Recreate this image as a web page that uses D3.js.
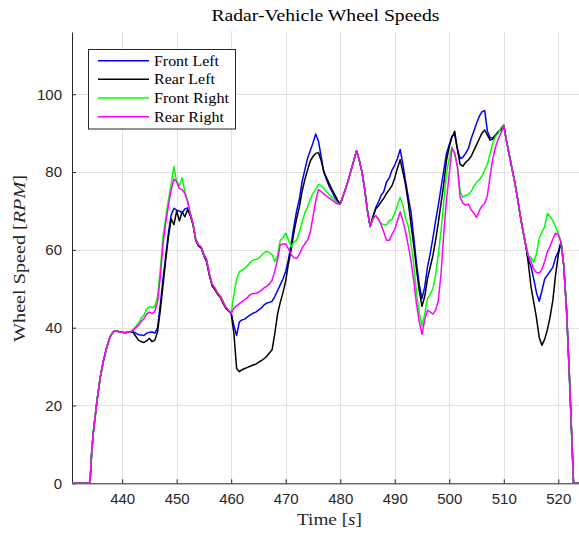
<!DOCTYPE html>
<html>
<head>
<meta charset="utf-8">
<script src="https://cdn.jsdelivr.net/npm/d3@7"></script>
<style>
  body { margin: 0; background: #ffffff; }
  svg { display: block; }
</style>
</head>
<body>
<svg id="chart" width="579" height="535"></svg>
<script>
// Sample times [s]
const time = [
  430.8, 434.1, 434.4, 434.7, 435.4, 436.0, 436.6, 437.2, 437.8, 438.4, 439.0, 439.5, 440.0, 440.5, 441.0, 441.5,
  442.0, 442.5, 443.0, 443.5, 444.0, 444.5, 445.0, 445.5, 446.0, 446.5,
  447.0, 447.5, 448.0, 448.5, 449.0, 449.5, 450.0, 450.5, 451.0, 451.5,
  452.0, 452.5, 453.0, 453.5, 454.0, 454.5, 455.0, 455.5, 456.0, 456.5,
  457.0, 457.5, 458.0, 458.5, 459.0, 459.5, 460.0, 460.5, 461.0, 461.5,
  462.0, 462.5, 463.0, 463.5, 464.0, 464.5, 465.0, 465.5, 466.0, 466.5,
  467.0, 467.5, 468.0, 468.5, 469.0, 469.5, 470.0, 470.5, 471.0, 471.5,
  472.0, 472.5, 473.0, 473.5, 474.0, 474.5, 475.0, 475.5, 476.0, 476.5,
  477.0, 477.5, 478.0, 478.5, 479.0, 479.5, 480.0, 480.5, 481.0, 481.5,
  482.0, 482.5, 483.0, 483.5, 484.0, 484.5, 485.0, 485.5, 486.0, 486.5,
  487.0, 487.5, 488.0, 488.5, 489.0, 489.5, 490.0, 490.5, 491.0, 491.5,
  492.0, 492.5, 493.0, 493.5, 494.0, 494.5, 495.0, 495.5, 496.0, 496.5,
  497.0, 497.5, 498.0, 498.5, 499.0, 499.5, 500.0, 500.5, 501.0, 501.5,
  502.0, 502.5, 503.0, 503.5, 504.0, 504.5, 505.0, 505.5, 506.0, 506.5,
  507.0, 507.5, 508.0, 508.5, 509.0, 509.5, 510.0, 510.5, 511.0, 511.5,
  512.0, 512.5, 513.0, 513.5, 514.0, 514.5, 515.0, 515.5, 516.0, 516.5,
  517.0, 517.5, 518.0, 518.5, 519.0, 519.5, 520.0, 520.5, 521.0, 521.5,
  522.0, 522.5, 522.8, 523.8
];

// Wheel speeds [RPM]
const frontLeft = [
  0, 0, 7.7, 12.9, 21.4, 27.4, 31.7, 35.1, 37.7, 39.0, 39.2, 38.9, 38.8, 38.7, 38.8, 38.9,
  39.0, 38.6, 38.2, 38.1, 38.0, 38.6, 38.8, 38.9, 38.6, 40.0,
  46.0, 52.5, 58.5, 64.5, 69.0, 70.7, 70.2, 70.0, 69.5, 70.5,
  70.8, 69.0, 66.5, 62.5, 61.0, 60.5, 58.5, 57.0, 53.5, 50.8,
  50.0, 48.8, 48.0, 46.5, 45.2, 44.5, 43.8, 40.5, 38.0, 41.5,
  42.0, 42.2, 42.8, 43.3, 43.7, 44.0, 44.5, 45.0, 45.8, 46.3,
  46.5, 46.8, 48.0, 49.5, 51.0, 52.5, 54.5, 57.5, 61.5, 66.0,
  70.0, 73.0, 77.5, 80.5, 83.5, 85.5, 87.5, 89.8, 88.0, 84.0,
  80.0, 78.0, 76.2, 75.0, 73.5, 72.5, 71.8, 73.7, 75.8, 78.0,
  80.5, 83.0, 85.5, 83.0, 80.0, 75.5, 70.0, 66.0, 68.5, 70.8,
  72.3, 74.0, 75.0, 77.5, 78.5, 80.5, 81.8, 83.5, 85.8, 82.0,
  77.5, 73.5, 69.5, 63.0, 56.5, 51.0, 47.5, 50.5, 55.5, 59.0,
  63.0, 67.5, 71.5, 76.0, 80.5, 84.8, 87.0, 89.3, 89.5, 86.0,
  83.5, 83.8, 84.8, 86.0, 88.5, 90.5, 92.5, 94.3, 95.5, 95.8,
  90.5, 88.8, 88.8, 89.5, 90.4, 91.0, 92.0, 88.0, 84.5, 81.0,
  77.5, 73.5, 69.0, 65.0, 61.5, 57.5, 55.7, 52.5, 49.0, 46.8,
  49.5, 52.5, 53.5, 54.5, 55.5, 58.0, 59.5, 62.0, 56.0, 45.0,
  29.0, 11.0, 0, 0
];

const rearLeft = [
  0, 0, 7.7, 12.9, 21.4, 27.4, 31.7, 35.1, 37.7, 39.0, 39.2, 38.9, 38.8, 38.7, 38.8, 38.9,
  38.8, 37.8, 36.8, 36.4, 36.2, 36.6, 37.3, 36.4, 36.8, 39.0,
  44.5, 51.0, 57.5, 63.5, 68.0, 66.5, 70.0, 67.5, 69.8, 68.5,
  70.3, 68.8, 66.5, 62.5, 61.0, 60.5, 58.5, 57.0, 53.5, 50.8,
  49.8, 48.6, 47.8, 46.3, 45.0, 44.3, 43.6, 38.5, 29.5, 28.7,
  29.2, 29.5, 29.8, 30.1, 30.4, 30.6, 31.1, 31.5, 32.0, 32.6,
  33.5, 34.3, 38.5, 43.5, 46.5, 49.0, 52.0, 56.5, 60.0, 64.5,
  68.0, 71.0, 75.0, 78.0, 80.5, 82.8, 84.0, 84.8, 85.0, 83.0,
  80.0, 78.5, 77.0, 75.5, 74.2, 72.8, 71.8, 73.7, 75.8, 78.0,
  80.5, 83.0, 85.5, 83.0, 80.0, 75.5, 70.0, 66.0, 68.5, 70.5,
  71.3, 72.3, 73.3, 74.5, 75.5, 76.5, 78.5, 81.0, 83.2, 80.0,
  76.5, 72.0, 66.5, 61.0, 55.0, 49.5, 45.5, 48.0, 52.5, 55.5,
  58.5, 62.5, 67.0, 72.0, 77.0, 83.1, 86.5, 89.0, 90.5, 85.7,
  82.0, 81.5, 82.5, 83.1, 84.0, 85.5, 87.0, 88.5, 90.0, 90.8,
  89.5, 88.2, 88.5, 89.5, 90.4, 90.8, 92.0, 88.0, 84.5, 81.0,
  77.5, 73.5, 69.0, 65.0, 61.5, 56.6, 50.5, 46.5, 42.5, 37.5,
  35.5, 37.0, 39.5, 42.8, 47.0, 53.5, 58.7, 62.0, 56.0, 45.0,
  29.0, 11.0, 0, 0
];

const frontRight = [
  0, 0, 7.7, 12.9, 21.4, 27.4, 31.7, 35.1, 37.7, 39.0, 39.2, 38.9, 38.8, 38.7, 38.8, 38.9,
  39.5, 40.3, 41.2, 42.4, 43.2, 44.8, 45.4, 45.2, 45.5, 48.0,
  55.0, 63.5, 68.5, 73.0, 77.0, 81.4, 77.5, 76.5, 78.5, 75.0,
  72.5, 69.4, 66.8, 62.8, 61.3, 60.8, 58.8, 57.5, 54.0, 51.2,
  50.3, 49.0, 48.2, 46.8, 45.4, 44.6, 43.8, 48.5, 52.5, 54.4,
  54.8, 55.3, 56.0, 56.8, 57.4, 57.5, 57.8, 58.5, 59.2, 59.6,
  59.3, 58.8, 57.0, 58.5, 62.5, 63.0, 64.3, 62.5, 60.8, 62.0,
  62.5, 64.5, 67.0, 69.5, 71.0, 73.0, 74.5, 75.5, 76.8, 76.5,
  75.8, 75.0, 74.1, 73.5, 72.8, 72.0, 71.8, 73.7, 75.8, 78.0,
  80.5, 83.0, 85.5, 83.0, 80.0, 75.5, 70.0, 66.0, 68.0, 68.8,
  67.8, 66.8, 66.5, 66.4, 67.5, 67.8, 69.5, 71.5, 73.5, 71.5,
  68.0, 66.0, 61.5, 56.0, 49.0, 43.7, 40.5, 43.5, 47.5, 48.5,
  50.0, 53.5, 59.0, 65.0, 72.5, 79.7, 83.5, 86.5, 84.5, 81.4,
  75.0, 73.5, 74.0, 74.3, 75.0, 76.3, 77.3, 78.0, 79.0, 80.5,
  82.0, 84.8, 87.5, 89.2, 90.0, 91.5, 92.0, 88.0, 84.5, 81.0,
  77.5, 73.5, 69.0, 65.0, 61.5, 58.5, 58.0, 56.8, 59.0, 63.0,
  64.5, 66.0, 69.4, 68.5, 67.5, 66.0, 64.3, 62.0, 56.0, 45.0,
  29.0, 11.0, 0, 0
];

const rearRight = [
  0, 0, 7.7, 12.9, 21.4, 27.4, 31.7, 35.1, 37.7, 39.0, 39.2, 38.9, 38.8, 38.7, 38.8, 38.9,
  39.3, 40.0, 40.6, 41.6, 42.3, 43.5, 44.0, 43.6, 44.2, 46.7,
  53.0, 61.5, 67.0, 71.5, 75.5, 78.2, 77.5, 75.8, 75.5, 74.5,
  72.5, 69.4, 66.8, 62.8, 61.3, 60.8, 58.8, 57.5, 54.0, 51.2,
  50.2, 48.9, 48.1, 46.7, 45.3, 44.5, 43.7, 45.0, 45.6, 46.2,
  46.7, 47.2, 47.8, 48.5, 48.8, 48.8, 49.1, 49.6, 50.2, 50.6,
  51.2, 52.2, 54.5, 57.5, 61.3, 61.5, 61.5, 60.3, 58.8, 58.0,
  57.8, 58.8, 60.5, 61.5, 62.5, 64.5, 68.5, 72.5, 75.5, 75.0,
  74.3, 73.8, 73.3, 72.8, 72.3, 71.8, 71.8, 73.7, 75.8, 78.0,
  80.5, 83.0, 85.5, 83.0, 80.0, 75.5, 70.0, 66.0, 68.0, 68.8,
  68.0, 66.5, 64.5, 62.5, 62.5, 64.0, 65.3, 67.5, 69.8, 67.5,
  64.5, 61.0, 57.0, 52.0, 46.0, 41.5, 38.3, 42.0, 44.5, 44.0,
  43.5, 44.5, 47.0, 54.0, 64.3, 73.0, 79.5, 86.0, 85.0, 81.4,
  73.5, 72.0, 71.5, 71.8, 70.3, 69.5, 68.3, 70.0, 71.3, 72.0,
  74.0, 79.0, 83.5, 86.5, 88.5, 90.0, 92.0, 88.0, 84.5, 81.0,
  77.5, 73.5, 69.0, 65.0, 61.5, 58.5, 57.0, 55.0, 54.2, 54.0,
  55.0, 57.0, 59.5, 61.0, 62.8, 64.3, 63.8, 62.0, 56.0, 45.0,
  29.0, 11.0, 0, 0
];

const seriesNames = ["Front Left", "Rear Left", "Front Right", "Rear Right"];
const seriesValues = [frontLeft, rearLeft, frontRight, rearRight];
const seriesColors = ["#0000ff", "#000000", "#00ff00", "#ff00ff"];

const xTicks = [440, 450, 460, 470, 480, 490, 500, 510, 520];
const yTicks = [0, 20, 40, 60, 80, 100];
const xDomain = [430.8, 523.8];
const yDomain = [0, 116];

const axisColor = "#262626";
const gridColor = "#e1e1e1";
const serif = "'Liberation Serif', 'Times New Roman', serif";
const sans = "'Liberation Sans', Arial, Helvetica, sans-serif";

const svg = d3.select("#chart");
const plot = { left: 72, right: 579, top: 32, bottom: 483.3 };

const x = d3.scaleLinear().domain(xDomain).range([plot.left, plot.right]);
const y = d3.scaleLinear().domain(yDomain).range([plot.bottom, plot.top]);

// grid
const grid = svg.append("g").attr("class", "grid");
grid.selectAll("line.gx").data(xTicks).join("line")
  .attr("class", "gx")
  .attr("x1", d => Math.round(x(d)) + 0.5).attr("x2", d => Math.round(x(d)) + 0.5)
  .attr("y1", plot.top).attr("y2", plot.bottom)
  .attr("stroke", gridColor).attr("stroke-width", 1);
grid.selectAll("line.gy").data(yTicks.filter(d => d > 0)).join("line")
  .attr("class", "gy")
  .attr("x1", plot.left).attr("x2", plot.right)
  .attr("y1", d => Math.round(y(d)) + 0.5).attr("y2", d => Math.round(y(d)) + 0.5)
  .attr("stroke", gridColor).attr("stroke-width", 1);

// axes (ticks point into the plot)
const xAxis = d3.axisBottom(x).tickValues(xTicks).tickFormat(d3.format("d"))
  .tickSizeInner(-4).tickSizeOuter(0).tickPadding(10);
const yAxis = d3.axisLeft(y).tickValues(yTicks).tickFormat(d3.format("d"))
  .tickSizeInner(-4).tickSizeOuter(0).tickPadding(10);

const gx = svg.append("g").attr("transform", `translate(0,${plot.bottom})`).call(xAxis);
const gy = svg.append("g").attr("transform", `translate(${plot.left},0)`).call(yAxis);
[gx, gy].forEach(g => {
  g.select(".domain").attr("stroke", axisColor).attr("stroke-width", 1);
  g.selectAll(".tick line").attr("stroke", axisColor).attr("stroke-width", 1);
  g.selectAll(".tick text").attr("fill", axisColor)
    .style("font-family", sans).style("font-size", "15px");
});

// data lines
svg.append("defs").append("clipPath").attr("id", "plotClip")
  .append("rect")
  .attr("x", plot.left).attr("y", plot.top - 2)
  .attr("width", plot.right - plot.left + 2).attr("height", plot.bottom - plot.top + 4);

const line = d3.line().x((d, i) => x(time[i])).y(d => y(d));
const lines = svg.append("g").attr("clip-path", "url(#plotClip)");
seriesValues.forEach((vals, k) => {
  lines.append("path")
    .datum(vals)
    .attr("d", line)
    .attr("fill", "none")
    .attr("stroke", seriesColors[k])
    .attr("stroke-width", 1.5)
    .attr("stroke-linejoin", "round");
});

// title
svg.append("text")
  .attr("x", (plot.left + plot.right) / 2).attr("y", 21)
  .attr("text-anchor", "middle")
  .attr("textLength", 228).attr("lengthAdjust", "spacingAndGlyphs")
  .style("font-family", serif).style("font-size", "17px").attr("fill", "#000")
  .text("Radar-Vehicle Wheel Speeds");

// x label
const xl = svg.append("text")
  .attr("x", 329.5).attr("y", 525)
  .attr("text-anchor", "middle")
  .attr("textLength", 65).attr("lengthAdjust", "spacingAndGlyphs")
  .style("font-family", serif).style("font-size", "17px").attr("fill", axisColor);
xl.append("tspan").text("Time [");
xl.append("tspan").style("font-style", "italic").text("s");
xl.append("tspan").text("]");

// y label
const yl = svg.append("text")
  .attr("transform", "translate(25,258.5) rotate(-90)")
  .attr("text-anchor", "middle")
  .attr("textLength", 167).attr("lengthAdjust", "spacingAndGlyphs")
  .style("font-family", serif).style("font-size", "17px").attr("fill", axisColor);
yl.append("tspan").text("Wheel Speed [");
yl.append("tspan").style("font-style", "italic").text("RPM");
yl.append("tspan").text("]");

// legend
const legend = svg.append("g").attr("class", "legend");
legend.append("rect")
  .attr("x", 88.5).attr("y", 49.5).attr("width", 147).attr("height", 79.5)
  .attr("fill", "#ffffff").attr("stroke", axisColor).attr("stroke-width", 1);
const legendRows = [60.7, 79.3, 98.1, 116.7];
const legendWidths = [65, 61, 75, 70];
seriesNames.forEach((name, k) => {
  legend.append("line")
    .attr("x1", 98).attr("x2", 149)
    .attr("y1", legendRows[k]).attr("y2", legendRows[k])
    .attr("stroke", seriesColors[k]).attr("stroke-width", 1.5);
  legend.append("text")
    .attr("x", 154).attr("y", legendRows[k] + 5)
    .attr("textLength", legendWidths[k]).attr("lengthAdjust", "spacingAndGlyphs")
    .style("font-family", serif).style("font-size", "15px").attr("fill", "#000")
    .text(name);
});
</script>
</body>
</html>
